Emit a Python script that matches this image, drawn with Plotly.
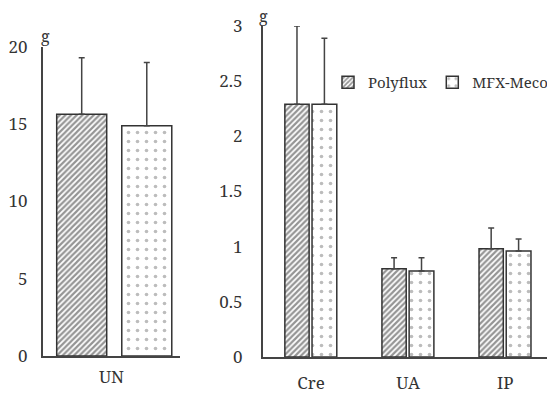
import plotly.graph_objects as go

# ---- data ----
cats_left = ["UN"]
cats_right = ["Cre", "UA", "IP"]
polyflux_left = [15.65]
polyflux_left_err = [3.65]
mfx_left = [14.9]
mfx_left_err = [4.1]
polyflux_right = [2.29, 0.80, 0.98]
polyflux_right_err = [0.71, 0.10, 0.19]
mfx_right = [2.29, 0.78, 0.96]
mfx_right_err = [0.60, 0.12, 0.11]
left_ticks = [0, 5, 10, 15, 20]
right_ticks = [0, 0.5, 1, 1.5, 2, 2.5, 3]
right_ticktext = ["0", "0.5", "1", "1.5", "2", "2.5", "3"]

W, H = 547, 394
FONT = "Noto Serif, DejaVu Serif, serif"
AX = "#444"

hatch = dict(shape="/", fgcolor="#2a2a2a", bgcolor="white", size=4, solidity=0.55)
dots = dict(shape=".", fgcolor="#7a7a7a", bgcolor="white", size=9, solidity=0.13)
line = dict(color="#333", width=1.5)

def err(vals):
    return dict(type="data", array=vals, arrayminus=[0] * len(vals), symmetric=False,
                color="#444", thickness=1.5, width=3)

fig = go.Figure()
fig.add_trace(go.Bar(x=cats_left, y=polyflux_left, name="Polyflux", legendgroup="p", showlegend=False,
                     marker=dict(color="white", pattern=hatch, line=line),
                     error_y=err(polyflux_left_err), offset=-0.40, width=0.365,
                     xaxis="x", yaxis="y"))
fig.add_trace(go.Bar(x=cats_left, y=mfx_left, name="MFX-Meco", legendgroup="m", showlegend=False,
                     marker=dict(color="white", pattern=dots, line=line),
                     error_y=err(mfx_left_err), offset=0.075, width=0.365,
                     xaxis="x", yaxis="y"))
fig.add_trace(go.Bar(x=cats_right, y=polyflux_right, name="Polyflux", legendgroup="p",
                     marker=dict(color="white", pattern=hatch, line=line),
                     error_y=err(polyflux_right_err), offset=-0.27, width=0.25,
                     xaxis="x2", yaxis="y2"))
fig.add_trace(go.Bar(x=cats_right, y=mfx_right, name="MFX-Meco", legendgroup="m",
                     marker=dict(color="white", pattern=dots, line=line),
                     error_y=err(mfx_right_err), offset=0.01, width=0.255,
                     xaxis="x2", yaxis="y2"))

def px_x(p):
    return p / W

def px_y(p):
    return (H - p) / H

common = dict(showline=True, linecolor=AX, linewidth=2, ticks="",
              tickfont=dict(family=FONT, size=17, color="#333"),
              showgrid=False, zeroline=False, automargin=False, fixedrange=True)

fig.update_layout(
    width=W, height=H,
    margin=dict(l=0, r=0, t=0, b=0, autoexpand=False),
    paper_bgcolor="white", plot_bgcolor="rgba(0,0,0,0)",
    barmode="overlay",
    font=dict(family=FONT, size=15, color="#333"),
    xaxis=dict(domain=[px_x(43), px_x(180)], range=[-0.5, 0.5], anchor="y",
               ticklabelstandoff=5, **common),
    yaxis=dict(domain=[px_y(356), px_y(47)], range=[0, 20], tickvals=left_ticks,
               anchor="x", ticklabelstandoff=10, **common),
    xaxis2=dict(domain=[px_x(263), 1.0], range=[-0.495, 2.43], anchor="y2",
                ticklabelstandoff=10, **common),
    yaxis2=dict(domain=[px_y(357), px_y(26)], range=[0, 3.0], tickvals=right_ticks,
                ticktext=right_ticktext, anchor="x2", ticklabelstandoff=15, **common),
    legend=dict(orientation="h", x=px_x(328), y=px_y(66), xanchor="left", yanchor="top",
                font=dict(family=FONT, size=15, color="#333"),
                bgcolor="rgba(0,0,0,0)", itemwidth=30, tracegroupgap=0),
    annotations=[
        dict(text="g", x=px_x(45), y=px_y(36), xref="paper", yref="paper", showarrow=False,
             xanchor="center", yanchor="middle", font=dict(family=FONT, size=16, color="#333")),
        dict(text="g", x=px_x(263), y=px_y(16), xref="paper", yref="paper", showarrow=False,
             xanchor="center", yanchor="middle", font=dict(family=FONT, size=16, color="#333")),
    ],
)

fig.write_html("out.html")
